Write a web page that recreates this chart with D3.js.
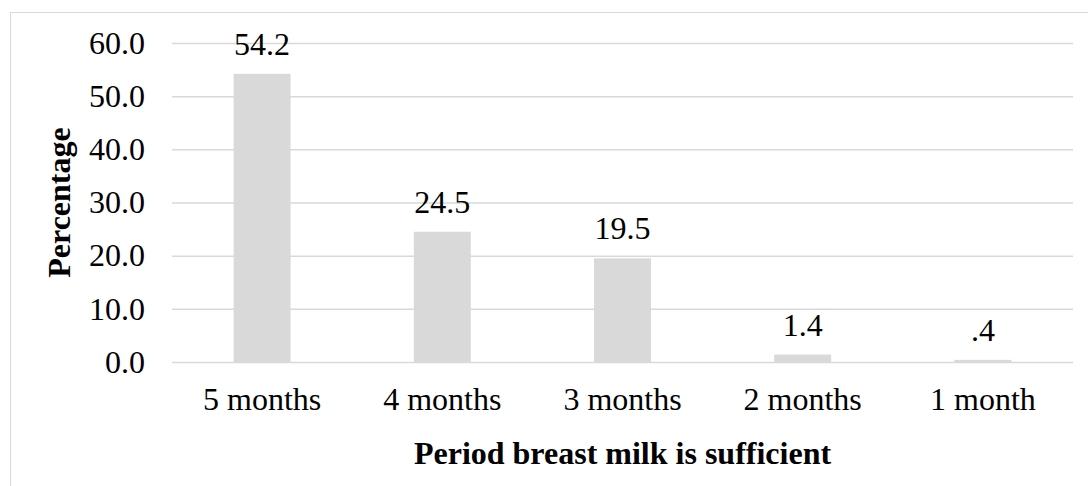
<!DOCTYPE html>
<html>
<head>
<meta charset="utf-8">
<script src="https://cdn.jsdelivr.net/npm/d3@7"></script>
<style>
  body { margin: 0; background: #fff; }
  svg { display: block; font-family: "Liberation Serif", "Times New Roman", serif; }
</style>
</head>
<body>
<svg id="chart" width="1088" height="486"></svg>
<script>
// data
const categories = ['5 months', '4 months', '3 months', '2 months', '1 month'];
const percentages = [54.2, 24.5, 19.5, 1.4, 0.4];
const yTicks = [0, 10, 20, 30, 40, 50, 60];

const width = 1088;
const height = 486;
const margin = {top: 43, right: 15, bottom: 124, left: 172};
const fontSize = 32;
const serif = '"Liberation Serif", "Times New Roman", serif';

const svg = d3.select('#chart');

// outer chart frame (it runs past the picture on the right and bottom)
svg.append('rect')
  .attr('x', 10.5)
  .attr('y', 12.5)
  .attr('width', 1300)
  .attr('height', 600)
  .attr('fill', 'none')
  .attr('stroke', '#d9d9d9');

const x = d3.scaleBand()
  .domain(categories)
  .range([margin.left, width - margin.right])
  .paddingInner(0.684)
  .paddingOuter(0.342);

const y = d3.scaleLinear()
  .domain([0, 60])
  .range([height - margin.bottom, margin.top]);

// gridlines + y labels
const yAxis = d3.axisLeft(y)
  .tickValues(yTicks)
  .tickFormat(d3.format('.1f'))
  .tickSize(-(width - margin.left - margin.right))
  .tickPadding(27);

const gy = svg.append('g')
  .attr('transform', `translate(${margin.left},0)`)
  .call(yAxis)
  .attr('font-family', serif)
  .attr('font-size', fontSize);
gy.select('.domain').remove();
gy.selectAll('.tick line').attr('stroke', '#d9d9d9').attr('stroke-width', 1.5);
gy.selectAll('.tick text').attr('fill', '#000');

// bars
svg.append('g')
  .selectAll('rect')
  .data(percentages)
  .join('rect')
  .attr('x', (d, i) => x(categories[i]))
  .attr('y', d => y(d))
  .attr('width', x.bandwidth())
  .attr('height', d => y(0) - y(d))
  .attr('fill', '#d9d9d9');

// value labels, SPSS style (no leading zero)
const fmt = d => d3.format('.1f')(d).replace(/^0\./, '.');
svg.append('g')
  .attr('font-family', serif)
  .attr('font-size', fontSize)
  .selectAll('text')
  .data(percentages)
  .join('text')
  .attr('x', (d, i) => x(categories[i]) + x.bandwidth() / 2)
  .attr('y', d => y(d) - 19)
  .attr('text-anchor', 'middle')
  .attr('fill', '#000')
  .text(fmt);

// x axis labels
const xAxis = d3.axisBottom(x).tickSize(0).tickPadding(25);
const gx = svg.append('g')
  .attr('transform', `translate(0,${height - margin.bottom})`)
  .call(xAxis)
  .attr('font-family', serif)
  .attr('font-size', fontSize);
gx.select('.domain').remove();
gx.selectAll('.tick text').attr('fill', '#000');

// axis titles
svg.append('text')
  .attr('x', (margin.left + width - margin.right) / 2)
  .attr('y', 464)
  .attr('text-anchor', 'middle')
  .attr('font-family', serif)
  .attr('font-size', fontSize)
  .attr('font-weight', 'bold')
  .text('Period breast milk is sufficient');

svg.append('text')
  .attr('transform', `translate(70,${(margin.top + height - margin.bottom) / 2}) rotate(-90)`)
  .attr('text-anchor', 'middle')
  .attr('font-family', serif)
  .attr('font-size', fontSize)
  .attr('font-weight', 'bold')
  .text('Percentage');
</script>
</body>
</html>
